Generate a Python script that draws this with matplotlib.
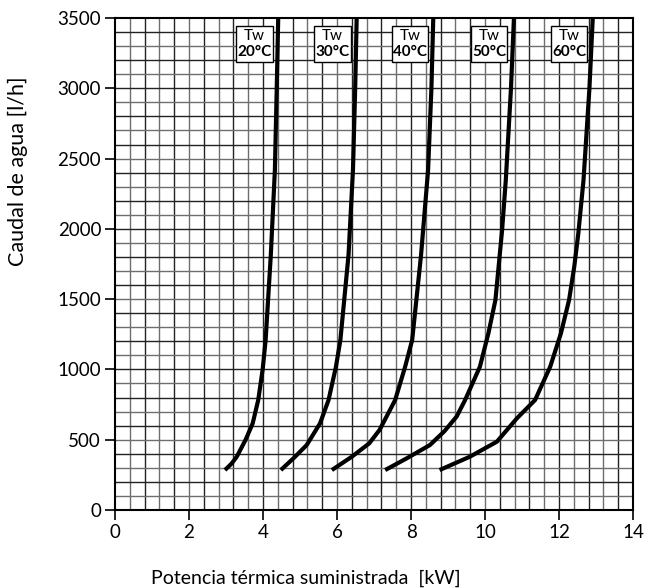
import numpy as np
import matplotlib
matplotlib.use("Agg")
import matplotlib.pyplot as plt
from matplotlib.patches import Rectangle

plt.rcParams['font.family'] = ['Lato', 'DejaVu Sans']

# curvas: potencia [kW] vs caudal [l/h]
temps = ['20°C', '30°C', '40°C', '50°C', '60°C']
x20 = [2.97, 3.15, 3.29, 3.53, 3.72, 3.87, 3.99, 4.07, 4.21, 4.32, 4.37, 4.41]
y20 = [284, 330, 379, 500, 616, 782, 1000, 1209, 1814, 2418, 3000, 3500]
x30 = [4.48, 4.82, 5.18, 5.54, 5.77, 5.97, 6.09, 6.31, 6.43, 6.49, 6.53]
y30 = [284, 367, 462, 616, 782, 1019, 1209, 1814, 2418, 3000, 3500]
x40 = [5.86, 6.40, 6.87, 7.15, 7.57, 7.84, 8.03, 8.27, 8.46, 8.55, 8.60]
y40 = [284, 379, 474, 570, 782, 1019, 1209, 1814, 2418, 3000, 3500]
x50 = [7.30, 7.88, 8.51, 8.90, 9.23, 9.46, 9.86, 10.09, 10.28, 10.46, 10.56, 10.70, 10.78]
y50 = [284, 367, 462, 560, 664, 782, 1019, 1257, 1494, 1991, 2347, 3000, 3500]
x60 = [8.77, 9.59, 10.32, 10.86, 11.35, 11.76, 12.05, 12.27, 12.41, 12.52, 12.66, 12.82, 12.91]
y60 = [284, 379, 486, 652, 782, 1019, 1257, 1494, 1731, 1968, 2347, 3000, 3500]
curves = [(x20, y20), (x30, y30), (x40, y40), (x50, y50), (x60, y60)]
label_x = [3.77, 5.88, 7.97, 10.11, 12.27]

xticks = [0, 2, 4, 6, 8, 10, 12, 14]
yticks = [0, 500, 1000, 1500, 2000, 2500, 3000, 3500]

fig = plt.figure(figsize=(6.48, 5.88), dpi=100)
ax = fig.add_axes([0.1775, 0.1327, 0.7995, 0.8367])

ax.set_xlim(0, 14)
ax.set_ylim(0, 3500)

# cuadricula fina
for i, gx in enumerate(np.arange(0.4, 14, 0.4)):
    ax.axvline(gx, color='#222222' if i % 2 else '#6e6e6e', lw=1.0, zorder=1)
for i, gy in enumerate(np.arange(100, 3500, 100)):
    ax.axhline(gy, color='#222222' if i % 2 else '#6e6e6e', lw=1.0, zorder=1)

for (xs, ys) in curves:
    ax.plot(xs, ys, color='black', lw=3.0, solid_capstyle='butt',
            solid_joinstyle='round', zorder=3)

for lx, t in zip(label_x, temps):
    ax.add_patch(Rectangle((lx - 0.49, 3186), 0.98, 257, facecolor='white',
                           edgecolor='black', lw=1.0, zorder=4))
    ax.text(lx, 3375, 'Tw', ha='center', va='center', fontsize=11, zorder=5)
    ax.text(lx, 3255, t, ha='center', va='center', fontsize=11, fontweight='bold',
            zorder=5)

ax.set_xticks(xticks)
ax.set_yticks(yticks)
ax.tick_params(direction='out', length=7, width=1.2, labelsize=13.5, pad=3)
for s in ax.spines.values():
    s.set_linewidth(1.5)

ax.set_xlabel('Potencia térmica suministrada  [kW]', fontsize=14)
ax.set_ylabel('Caudal de agua [l/h]', fontsize=15.5)
ax.xaxis.set_label_coords(0.369, -0.122)
ax.yaxis.set_label_coords(-0.168, 0.689)

fig.savefig('out.png', dpi=100)
